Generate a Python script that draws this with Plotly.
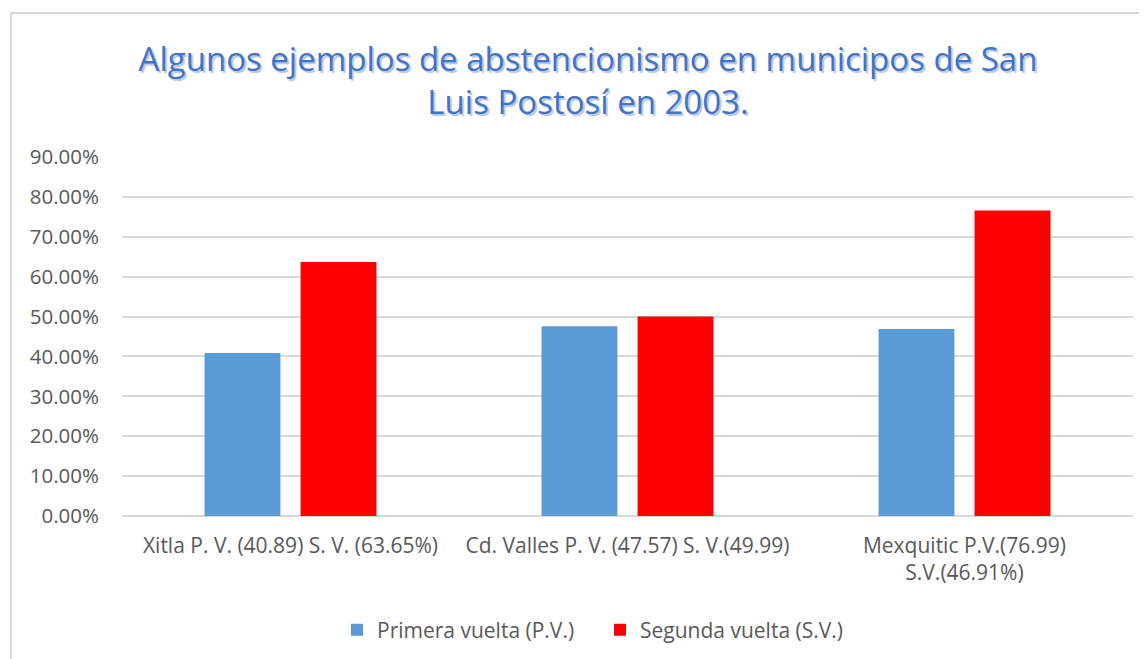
import plotly.graph_objects as go

categories = [
    "Xitla P. V. (40.89) S. V. (63.65%)",
    "Cd. Valles P. V. (47.57) S. V.(49.99)",
    "Mexquitic P.V.(76.99)<br>S.V.(46.91%)",
]
primera_vuelta = [0.4089, 0.4757, 0.4691]
segunda_vuelta = [0.6365, 0.4999, 0.7660]
series_names = ["Primera vuelta (P.V.)", "Segunda vuelta (S.V.)"]
y_ticks = [0, 0.1, 0.2, 0.3, 0.4, 0.5, 0.6, 0.7, 0.8, 0.9]

W, H = 1139, 651
ml, mr, mt, mb = 114, 14, 149, 143

fig = go.Figure()
fig.add_trace(go.Bar(x=categories, y=primera_vuelta, name=series_names[0],
                     marker=dict(color="#5B9BD5", line=dict(width=0))))
fig.add_trace(go.Bar(x=categories, y=segunda_vuelta, name=series_names[1],
                     marker=dict(color="#FF0000", line=dict(width=0))))

pw = W - ml - mr
ph = H - mt - mb
# outer chart border (decoration)
fig.add_shape(type="rect", xref="paper", yref="paper",
              x0=(3 - ml) / pw, x1=(1160 - ml) / pw,
              y0=(H - mb - 670) / ph, y1=(H - mb - 5) / ph,
              line=dict(color="#D9D9D9", width=2), fillcolor="rgba(0,0,0,0)",
              layer="below")

fig.update_layout(
    width=W, height=H,
    margin=dict(l=ml, r=mr, t=mt, b=mb),
    paper_bgcolor="white", plot_bgcolor="white",
    barmode="group", bargap=0.43, bargroupgap=0.21,
    font=dict(family="Open Sans", color="#595959", size=21),
    title=dict(
        text="Algunos ejemplos de abstencionismo en municipos de San<br>Luis Postosí en 2003.",
        xref="container", yref="container",
        x=580 / W, xanchor="center", y=1 - 63 / H, yanchor="middle",
        font=dict(family="Open Sans", size=33, color="#4472C4",
                  shadow="2px 2px 1px #B4C7E7"),
    ),
    xaxis=dict(showgrid=False, showline=False, ticks="",
               tickfont=dict(size=21, color="#595959"), ticklabelstandoff=15),
    yaxis=dict(range=[0, 0.9], tickvals=y_ticks, tickformat=".2%",
               showgrid=True, gridcolor="#D9D9D9", gridwidth=1.5,
               zeroline=True, zerolinecolor="#D9D9D9", zerolinewidth=1.5,
               showline=False, ticks="", ticklabelstandoff=22,
               tickfont=dict(size=20.5, color="#595959")),
    legend=dict(orientation="h", xref="container", yref="container",
                x=(349 - 8 - 12) / W, xanchor="left", y=1 - 622 / H, yanchor="middle",
                font=dict(size=21, color="#595959"), itemwidth=30,
                entrywidth=218, entrywidthmode="pixels",
                traceorder="normal"),
)

fig.write_html("out.html")
